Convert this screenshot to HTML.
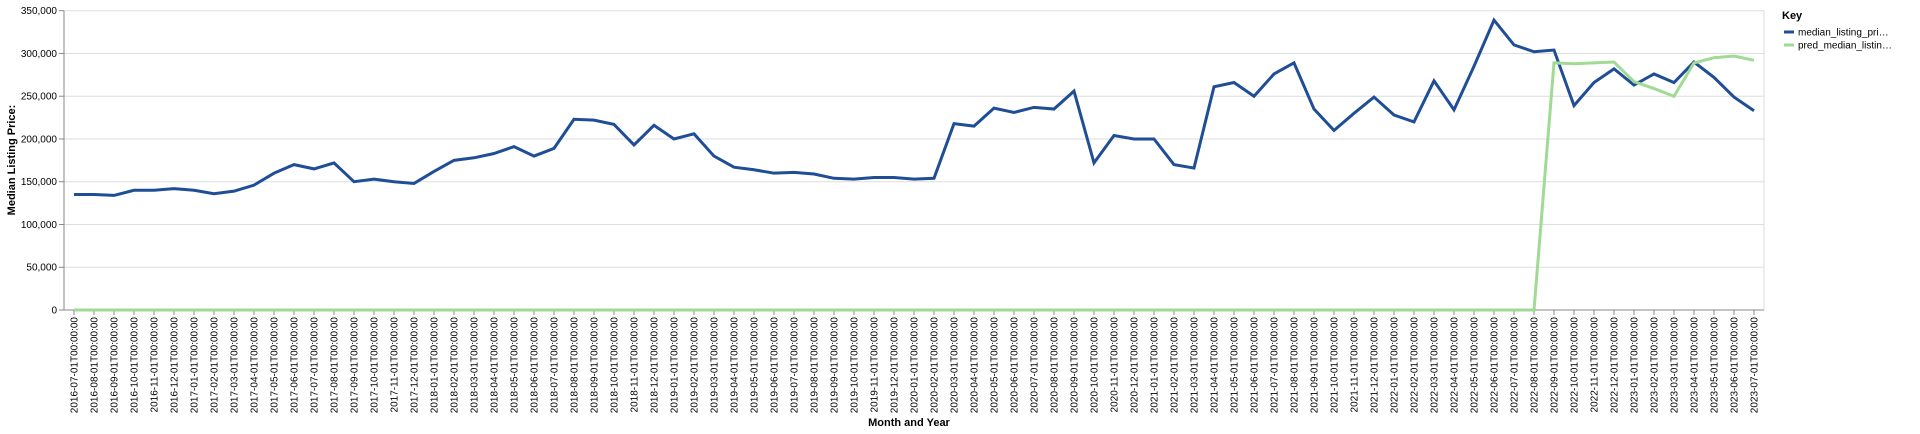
<!DOCTYPE html>
<html><head><meta charset="utf-8">
<style>
html,body{margin:0;padding:0;background:#fff;}
svg{display:block;font-family:"Liberation Sans",Arial,sans-serif;}
</style></head>
<body>
<svg id="chart" width="1920" height="434" viewBox="0 0 1920 434" xmlns="http://www.w3.org/2000/svg">
<g id="grid"></g>
<g id="xaxis"></g>
<g id="yaxis"></g>
<g id="series"></g>
<text transform="translate(15,160) rotate(-90)" text-anchor="middle" font-size="11" font-weight="bold" fill="#000">Median Listing Price:</text>
<text x="909" y="426" text-anchor="middle" font-size="11" font-weight="bold" fill="#000">Month and Year</text>
<g>
<text x="1782" y="19" font-size="11" font-weight="bold" fill="#000">Key</text>
<g>
<line x1="1784" y1="32" x2="1794" y2="32" stroke="#1f4e96" stroke-width="3"/>
<text x="1798" y="35.5" font-size="10" fill="#000">median_listing_pri…</text></g>
<g>
<line x1="1784" y1="45" x2="1794" y2="45" stroke="#a1da94" stroke-width="3"/>
<text x="1798" y="48.5" font-size="10" fill="#000">pred_median_listin…</text></g>
</g>
</svg>
<script>
const startYear = 2016, startMonth = 7;
const medianValues = [135,135,134,140,140,142,
140,136,139,146,160,170,165,172,150,153,150,148,
162,175,178,183,191,180,189,223,222,217,193,216,
200,206,180,167,164,160,161,159,154,153,155,155,
153,154,218,215,236,231,237,235,256,172,204,200,
200,170,166,261,266,250,276,289,235,210,230,249,
228,220,268,234,285,339,310,302,304,239,266,282,
263,276,266,290,272,249,233];
const predValues = [0,0,0,0,0,0,
0,0,0,0,0,0,0,0,0,0,0,0,
0,0,0,0,0,0,0,0,0,0,0,0,
0,0,0,0,0,0,0,0,0,0,0,0,
0,0,0,0,0,0,0,0,0,0,0,0,
0,0,0,0,0,0,0,0,0,0,0,0,
0,0,0,0,0,0,0,0,289,288,289,290,
267,259,250,289,295,297,292];
const yTicks = [0,50000,100000,150000,200000,250000,300000,350000];

const NS="http://www.w3.org/2000/svg";
const X0=64,X1=1764,Y0=310,Y1=10.7,firstX=74,step=20;
const n=medianValues.length;
function xs(i){return firstX+i*step;}
function ys(v){return Y0-(v/350000)*(Y0-Y1);}
function mk(tag,attrs,parent){const e=document.createElementNS(NS,tag);for(const k in attrs)e.setAttribute(k,attrs[k]);parent.appendChild(e);return e;}
const grid=document.getElementById('grid'),xa=document.getElementById('xaxis'),ya=document.getElementById('yaxis'),ser=document.getElementById('series');
yTicks.forEach(t=>{
  const y=ys(t);
  const gl=mk('line',{x1:X0,x2:X1,y1:y,y2:y,stroke:'#ddd','stroke-width':1},grid);
  
  
  mk('line',{x1:X0-5,x2:X0,y1:y,y2:y,stroke:'#888'},ya);
  const tx=mk('text',{x:X0-7,y:y+3.5,'text-anchor':'end','font-size':10,fill:'#000'},ya);
  tx.textContent=t.toLocaleString('en-US');
  
  
});
mk('line',{x1:X1,x2:X1,y1:Y1,y2:Y0,stroke:'#ddd'},grid);
mk('line',{x1:X0,x2:X0,y1:Y1,y2:Y0,stroke:'#888'},ya);
mk('line',{x1:X0,x2:X1,y1:Y0,y2:Y0,stroke:'#888'},xa);
for(let i=0;i<n;i++){
  const m=(startMonth-1+i)%12+1, yr=startYear+Math.floor((startMonth-1+i)/12);
  const lab=yr+'-'+String(m).padStart(2,'0')+'-01T00:00:00';
  const x=xs(i);
  mk('line',{x1:x,x2:x,y1:Y0,y2:Y0+5,stroke:'#888'},xa);
  const t=mk('text',{transform:`translate(${x+3.5},${Y0+7}) rotate(-90)`,'text-anchor':'end','font-size':10,fill:'#000'},xa);
  t.textContent=lab;
  
  
}
function path(vals,color,name){
  const d=vals.map((v,i)=>(i?'L':'M')+xs(i)+','+ys(v*1000)).join('');
  const p=mk('path',{d:d,fill:'none',stroke:color,'stroke-width':3,'stroke-linejoin':'miter'},ser);
  
  
}
path(medianValues,'#1f4e96','median-listing-price-line');
path(predValues,'#a1da94','pred-median-listing-price-line');
</script>
</body></html>
